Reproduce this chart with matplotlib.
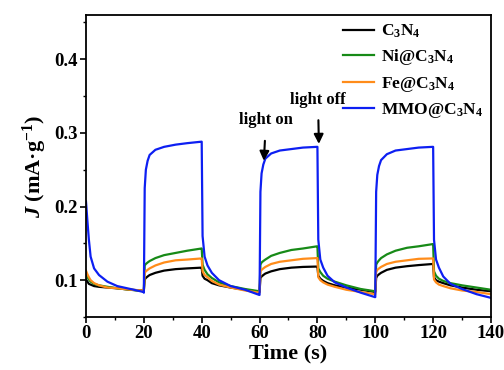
import matplotlib
matplotlib.use("Agg")
import matplotlib.pyplot as plt
from matplotlib.ticker import MultipleLocator

plt.rcParams['font.family'] = ['Liberation Serif', 'DejaVu Serif']
plt.rcParams['font.weight'] = 'bold'
plt.rcParams['mathtext.fontset'] = 'custom'
plt.rcParams['mathtext.rm'] = 'Liberation Serif:bold'
plt.rcParams['mathtext.it'] = 'Liberation Serif:italic:bold'
plt.rcParams['mathtext.bf'] = 'Liberation Serif:bold'

# Time axis (s); repeated switching instants give the on/off steps
time_s = [0, 0.5, 1, 1.6, 2.8, 4.5, 7.4, 10.8, 15.4, 19.9,
          20, 20.3, 20.7, 21.3, 22, 24, 27, 31, 35, 39.9,
          40, 40.3, 41, 42, 43.5, 46, 50, 55, 59.9,
          60, 60.3, 60.7, 61.3, 62, 64, 67, 71, 75, 79.9,
          80, 80.3, 81, 82, 83.5, 86, 90, 95, 99.9,
          100, 100.3, 100.7, 101.3, 102, 104, 107, 111, 115, 119.9,
          120, 120.3, 121, 122, 123.5, 126, 130, 135, 140]

j_c3n4 = [0.101, 0.098, 0.095, 0.094, 0.092, 0.091, 0.090, 0.089, 0.087, 0.086,
          0.086, 0.101, 0.103, 0.105, 0.107, 0.110, 0.113, 0.115, 0.116, 0.117,
          0.117, 0.106, 0.102, 0.100, 0.096, 0.093, 0.090, 0.087, 0.084,
          0.084, 0.103, 0.105, 0.107, 0.109, 0.112, 0.115, 0.117, 0.118, 0.1185,
          0.1185, 0.106, 0.102, 0.099, 0.096, 0.093, 0.090, 0.087, 0.084,
          0.084, 0.103, 0.106, 0.108, 0.110, 0.114, 0.117, 0.119, 0.1205, 0.122,
          0.122, 0.104, 0.100, 0.098, 0.096, 0.093, 0.090, 0.087, 0.085]

j_ni = [0.108, 0.104, 0.101, 0.098, 0.095, 0.093, 0.091, 0.089, 0.087, 0.085,
        0.085, 0.120, 0.122, 0.124, 0.126, 0.130, 0.134, 0.137, 0.140, 0.143,
        0.143, 0.121, 0.114, 0.108, 0.103, 0.097, 0.092, 0.088, 0.085,
        0.085, 0.121, 0.124, 0.126, 0.128, 0.133, 0.137, 0.141, 0.143, 0.146,
        0.146, 0.116, 0.111, 0.106, 0.102, 0.098, 0.093, 0.088, 0.085,
        0.085, 0.121, 0.124, 0.127, 0.130, 0.135, 0.140, 0.144, 0.146, 0.149,
        0.149, 0.112, 0.106, 0.102, 0.099, 0.096, 0.093, 0.090, 0.087]

j_fe = [0.113, 0.108, 0.104, 0.100, 0.096, 0.093, 0.090, 0.089, 0.087, 0.086,
        0.086, 0.110, 0.112, 0.114, 0.116, 0.120, 0.124, 0.127, 0.128, 0.1295,
        0.1295, 0.112, 0.107, 0.104, 0.099, 0.094, 0.090, 0.086, 0.083,
        0.083, 0.112, 0.114, 0.116, 0.118, 0.122, 0.125, 0.127, 0.129, 0.130,
        0.130, 0.104, 0.100, 0.097, 0.094, 0.091, 0.087, 0.084, 0.081,
        0.081, 0.111, 0.114, 0.116, 0.118, 0.122, 0.125, 0.127, 0.129, 0.1295,
        0.1295, 0.101, 0.097, 0.094, 0.092, 0.089, 0.086, 0.084, 0.081]

j_mmo = [0.207, 0.180, 0.155, 0.132, 0.116, 0.107, 0.098, 0.092, 0.088, 0.084,
         0.083, 0.225, 0.250, 0.262, 0.270, 0.277, 0.281, 0.284, 0.286, 0.288,
         0.288, 0.160, 0.132, 0.120, 0.110, 0.100, 0.092, 0.087, 0.080,
         0.080, 0.220, 0.245, 0.257, 0.265, 0.272, 0.276, 0.278, 0.280, 0.281,
         0.281, 0.155, 0.128, 0.117, 0.106, 0.097, 0.090, 0.083, 0.077,
         0.077, 0.220, 0.243, 0.255, 0.263, 0.271, 0.276, 0.278, 0.280, 0.281,
         0.281, 0.155, 0.128, 0.117, 0.105, 0.095, 0.088, 0.081, 0.076]

series_labels = ['C$_3$N$_4$', 'Ni@C$_3$N$_4$', 'Fe@C$_3$N$_4$', 'MMO@C$_3$N$_4$']
series_colors = ['#000000', '#178a17', '#ff8c1a', '#0d1ff2']

fig = plt.figure(figsize=(5.04, 3.70), dpi=100)
ax = fig.add_axes([0.1706, 0.1432, 0.8036, 0.8163])

for values, label, color in zip([j_c3n4, j_ni, j_fe, j_mmo], series_labels, series_colors):
    ax.plot(time_s, values, color=color, lw=1.6, label=label)

ax.set_xlim(0, 140)
ax.set_ylim(0.05, 0.46)
ax.xaxis.set_major_locator(MultipleLocator(20))
ax.xaxis.set_minor_locator(MultipleLocator(10))
ax.yaxis.set_major_locator(MultipleLocator(0.1))
ax.yaxis.set_minor_locator(MultipleLocator(0.05))
ax.tick_params(which='major', direction='out', length=4, width=1.2, labelsize=13.5, pad=2)
ax.tick_params(which='minor', direction='out', length=2.5, width=1.0)
for lab in ax.get_xticklabels() + ax.get_yticklabels():
    lab.set_fontweight('bold')
for sp in ax.spines.values():
    sp.set_linewidth(1.3)

ax.set_xlabel('Time (s)', fontsize=16, fontweight='bold', labelpad=1)
ax.set_ylabel('$J$ (mA·g$^{-1}$)', fontsize=16, fontweight='bold', labelpad=4)

leg = ax.legend(loc='upper right', frameon=False, fontsize=12.5, handlelength=1.8,
                handletextpad=0.4, labelspacing=0.42, borderaxespad=0.05)
for txt in leg.get_texts():
    txt.set_fontweight('bold')

ax.annotate('light on', xy=(61.5, 0.262), xytext=(62.2, 0.317), ha='center', va='center',
            fontsize=12, fontweight='bold',
            arrowprops=dict(arrowstyle='-|>', color='black', lw=1.5, mutation_scale=14,
                            shrinkA=7, shrinkB=0))
ax.annotate('light off', xy=(80.5, 0.285), xytext=(80.2, 0.345), ha='center', va='center',
            fontsize=12, fontweight='bold',
            arrowprops=dict(arrowstyle='-|>', color='black', lw=1.5, mutation_scale=14,
                            shrinkA=7, shrinkB=0))

fig.savefig('out.png', dpi=100)
